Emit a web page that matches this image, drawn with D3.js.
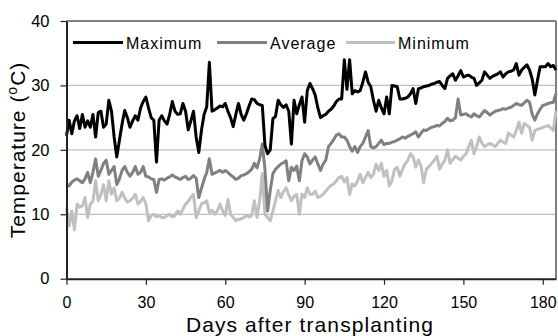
<!DOCTYPE html>
<html><head><meta charset="utf-8">
<script src="https://cdn.jsdelivr.net/npm/d3@7/dist/d3.min.js"></script>
<style>body{margin:0;background:#fff}svg{display:block}text{font-family:Arial,"Liberation Sans",sans-serif}</style>
</head><body><svg id="c" width="558" height="336"></svg>
<script>
const xTicks = [0, 30, 60, 90, 120, 150, 180];
const yTicks = [0, 10, 20, 30, 40];
const seriesNames = ["Maximum", "Average", "Minimum"];
const maximum = [22.2,24.6,22.5,24.5,25.3,23.3,25.5,23.5,24.5,23.5,25.5,22,25.8,26,23.5,24,27.7,26,22,18.9,
21.5,24,26.1,25,23.5,24.5,25.3,24.6,26.5,27.5,28.2,26.5,25,24.6,18.1,24.6,25.3,24.5,24,25.5,
27.5,26,25.5,25.6,27.2,26,23.1,24.5,26,22,19.6,23,25.5,26.7,33.6,26,26.2,26.5,26.8,26.7,
27.2,26,25,23.6,25.5,27.2,25.5,24.6,25.6,26.8,27.9,27.8,27.2,27,26.9,20.7,19.4,20,24.8,25.2,
27.7,27,26.6,27,26,20.9,27.7,25.6,27,28.2,24.3,29.2,30.3,29.5,28.5,26.5,25,25.3,25.5,26,
26.3,26.8,27.5,27.9,27.9,34,29.4,34,28.7,29.2,29,29.2,30.5,32.1,30.5,29.8,27.7,26,27.7,26.5,
25.6,28.2,25.6,30,29.9,29.8,27.9,27.9,28,28.2,28.7,29.5,27.2,29.5,29.6,29.8,29.9,30,30.2,30.3,
30.5,30.6,30,29.5,31.1,31.5,31.8,30.8,31.5,32.3,31.3,31.5,31.6,31.3,31.1,30,30.4,30.8,32.1,31.6,
31.1,31.4,31.6,31.8,32.1,31.3,31.8,32.1,32.2,32.4,33.4,31.6,32.4,32.8,33.2,32.4,31,28.5,30.8,32.9,
32.9,32.9,33.4,32.9,33.1,32.4];
const average = [14.7,14.4,15,15.3,15.5,15.2,14.9,15.5,16.5,14.9,16.5,18.6,15.9,16.8,17.9,18.4,16.2,16.8,17.4,14.6,
15.5,16.8,17.4,16.5,15.9,16.5,17.4,16.2,16.5,17.4,15.9,15.8,15.5,15.4,13.4,15.4,15.5,15.3,15.6,15.8,
16.1,15.8,15.6,15.4,15.7,15.9,15.4,15.6,16,15.6,12.6,14,15.4,16.5,18.6,16.2,16.4,16.6,16.8,16.5,
16.8,16.5,16.1,15.8,15.4,15.6,16,16.1,16.3,16.6,17,17.9,17.2,18.6,20.9,17,10.5,13.7,16.3,17,
17.4,17.8,18,18.3,15.2,17.3,16.8,17.5,15.2,18.3,19.4,18.9,17.8,18.4,18.9,17.8,16.8,17.8,18.4,20.5,
21,21.6,22.3,22.5,22,22,21.5,20.5,19.8,20.5,19.6,20.5,21,22,23,20.5,20.3,20.5,21,21.5,
20.8,21,21,21.2,21.3,21.5,21.7,22,21.8,22.1,22.3,22.5,22.8,22,22.6,23.1,23,23.3,23.5,23.6,
23.8,23.7,24.1,24.4,24.9,24.5,24.6,25,27.9,25.4,25.5,25.6,25.3,25.1,25.6,25.3,25.1,25.6,26.1,25.8,
25.4,25.7,26,26.1,26.2,26.4,26.3,26.5,26.6,26.9,27.2,27,26.9,27.3,27.7,27.4,25.5,24.6,25.6,26.3,
26.9,27,27.2,27.3,27.4,28.7];
const minimum = [11.1,8.2,10.5,7.6,11.6,11.1,11.3,12.6,9.5,11.6,12,15.2,12.1,13,14.6,12.1,15.2,13.1,14.1,12.1,
12.5,13.4,12.5,11.9,12.1,12.5,13.1,11.6,12,12.6,11.6,9,9.8,10,9.6,9.8,9.5,9.5,9.8,10,
9.6,9.8,10.5,10,10.8,11.6,12,12.6,13.1,9.5,10.5,11.6,11.8,12.1,10.3,10.6,10,10.5,11.6,10.5,
9.8,12.3,10,9.5,9,9.2,9.3,9.5,9.8,9.6,9.8,12.1,9.5,12.1,16.3,10,9.5,9,10.5,12.1,
13.7,12.6,13.5,14.1,13,12.1,12.8,13.1,10,13.1,12.6,14.1,13.1,13.1,13.6,12.6,12.8,13.1,13.6,14.1,
14.5,14.7,15.2,15.7,15.9,15,15.7,13.1,14.7,14.4,15.2,16.2,14.9,15.7,16.5,15.7,16.2,17.8,16.8,17.9,
15.9,16.8,14.4,15.2,17,17.3,15.9,17,17.8,18.4,19.4,18.9,17.3,18.4,17.5,14.9,17,17.4,17.9,18.4,
19,17,17.8,18.4,20,17.9,18.5,19,18.7,18.4,19,19.4,20.5,21.5,19.4,20.5,22,21,20.5,20.8,
21,20.8,20.5,21,21.5,21.2,21,22.6,22.3,22,23,24.3,22.6,24.1,23.8,23.5,21.5,23,23.2,23.3,
23.5,23.6,23.8,23.4,23,26.1];
const days = maximum.map((_, i) => i);

const svg = d3.select("#c");
const L = 66.5, R = 556, T = 21, B = 278.7;
const x = d3.scaleLinear().domain([0, 185]).range([L, R]);
const y = d3.scaleLinear().domain([0, 40]).range([B, T]);

// gridlines
svg.append("g").selectAll("line").data([10, 20, 30]).join("line")
  .attr("x1", L).attr("x2", R).attr("y1", d => y(d)).attr("y2", d => y(d))
  .attr("stroke", "#c0c0c0").attr("stroke-width", 1.3);

// top & right border
svg.append("line").attr("x1", L).attr("x2", R).attr("y1", y(40)).attr("y2", y(40)).attr("stroke", "#808080").attr("stroke-width", 2);
svg.append("line").attr("x1", R).attr("x2", R).attr("y1", T).attr("y2", B).attr("stroke", "#808080").attr("stroke-width", 2);

// series
const colors = ["#000000", "#808080", "#c0c0c0"];
const data = [maximum, average, minimum];
const line = d3.line().x((d, i) => x(days[i])).y(d => y(d));
[2, 1, 0].forEach(k => {
  svg.append("path").datum(data[k]).attr("d", line).attr("fill", "none")
    .attr("stroke", colors[k]).attr("stroke-width", 3).attr("stroke-linejoin", "round");
});

// axes
const xAxis = d3.axisBottom(x).tickValues(xTicks).tickSize(6).tickSizeOuter(0);
const gx = svg.append("g").attr("transform", `translate(0,${B})`).call(xAxis);
gx.select(".domain").attr("stroke", "#222").attr("stroke-width", 2);
gx.selectAll(".tick line").attr("stroke", "#222").attr("stroke-width", 1.2);
gx.selectAll(".tick text").attr("font-size", 16).attr("fill", "#000").attr("y", 13).attr("dy", "1.05em").attr("font-family", "Arial, Liberation Sans, sans-serif");

const yAxis = d3.axisLeft(y).tickValues(yTicks).tickSize(6).tickSizeOuter(0);
const gy = svg.append("g").attr("transform", `translate(${L},0)`).call(yAxis);
gy.select(".domain").attr("stroke", "#222").attr("stroke-width", 2);
gy.selectAll(".tick line").attr("stroke", "#222").attr("stroke-width", 1.2);
gy.selectAll(".tick text").attr("font-size", 16.5).attr("fill", "#000").attr("x", -17).attr("font-family", "Arial, Liberation Sans, sans-serif");

// axis titles
svg.append("text").attr("x", 310).attr("y", 332).attr("text-anchor", "middle")
  .attr("font-size", 21).attr("letter-spacing", 1.1).attr("fill", "#000").text("Days after transplanting");
const yt = svg.append("text").attr("transform", "translate(25,150) rotate(-90)").attr("text-anchor", "middle")
  .attr("font-size", 21).attr("letter-spacing", 1).attr("fill", "#000");
yt.append("tspan").text("Temperature (");
yt.append("tspan").attr("font-size", 14).attr("dy", -8).text("o");
yt.append("tspan").attr("dy", 8).text("C)");

// legend
const legX = [73, 217, 346];
const legW = [50, 50, 49];
const legY = 42.5;
seriesNames.forEach((n, k) => {
  svg.append("line").attr("x1", legX[k]).attr("x2", legX[k] + legW[k]).attr("y1", legY).attr("y2", legY)
    .attr("stroke", colors[k]).attr("stroke-width", 3);
  svg.append("text").attr("x", legX[k] + legW[k] + 3).attr("y", legY + 6).attr("font-size", 16)
    .attr("letter-spacing", 1).attr("fill", "#000").text(n);
});
</script></body></html>
